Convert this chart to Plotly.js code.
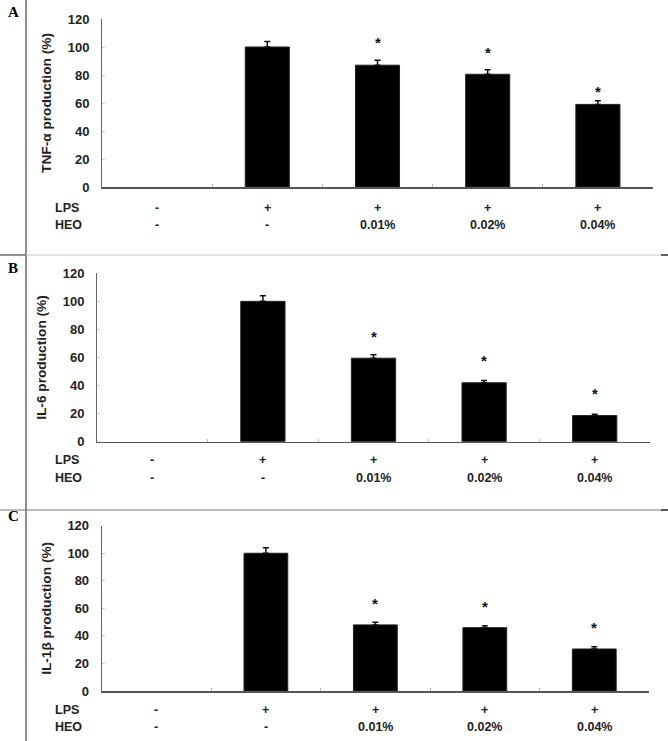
<!DOCTYPE html>
<html>
<head>
<meta charset="utf-8">
<script src="https://cdn.plot.ly/plotly-3.0.1.min.js"></script>
<style>html,body{margin:0;padding:0;background:#fff;}#chart{width:668px;height:741px;}</style>
</head>
<body>
<div id="chart"></div>
<script>
// ---- data ----
const categories = ["Control", "LPS", "LPS + HEO 0.01%", "LPS + HEO 0.02%", "LPS + HEO 0.04%"];
const lpsLabels = ["-", "+", "+", "+", "+"];
const heoLabels = ["-", "-", "0.01%", "0.02%", "0.04%"];
const yTitles = ["TNF-α production (%)", "IL-6 production (%)", "IL-1β production (%)"];
const panelLetters = ["A", "B", "C"];

const tnfValues = [null, 100, 87, 80.5, 59];
const tnfErrors = [0, 4, 3.5, 3.3, 2.6];
const tnfStars = [null, null, 105.5, 98, 70.5];

const il6Values = [null, 100, 59.5, 42, 18.6];
const il6Errors = [0, 4, 2.5, 1.6, 1];
const il6Stars = [null, null, 77.4, 60, 36.2];

const il1bValues = [null, 100, 48, 46, 30.5];
const il1bErrors = [0, 4, 1.9, 1.4, 1.7];
const il1bStars = [null, null, 66, 63.7, 48.4];

// ---- layout helpers ----
const W = 668, H = 741;
const px = v => v / W;
const py = v => 1 - v / H;

const panels = [
  {vals: tnfValues, errs: tnfErrors, stars: tnfStars, xd: [102, 653], yd: [19, 187], lps: 208, heo: 225, letterY: 12.5},
  {vals: il6Values, errs: il6Errors, stars: il6Stars, xd: [97, 650], yd: [273.3, 441.7], lps: 460, heo: 478, letterY: 267.5},
  {vals: il1bValues, errs: il1bErrors, stars: il1bStars, xd: [101.7, 649], yd: [525.7, 691], lps: 710, heo: 727, letterY: 516}
];

const sans = "Liberation Sans, Arial, sans-serif";
const traces = [];
const layout = {
  width: W, height: H,
  margin: {l: 0, r: 0, t: 0, b: 0},
  paper_bgcolor: "#fff", plot_bgcolor: "#fff",
  showlegend: false,
  annotations: [],
  shapes: [
    {type: "line", xref: "paper", yref: "paper", x0: px(26), x1: px(26), y0: 0, y1: 1, line: {color: "#444", width: 1.2}},
    {type: "line", xref: "paper", yref: "paper", x0: 0, x1: 1, y0: py(255), y1: py(255), line: {color: "#c4c4c4", width: 1}},
    {type: "line", xref: "paper", yref: "paper", x0: 0, x1: px(26), y0: py(255), y1: py(255), line: {color: "#444", width: 1}},
    {type: "line", xref: "paper", yref: "paper", x0: px(661), x1: 1, y0: py(255), y1: py(255), line: {color: "#333", width: 1.5}},
    {type: "line", xref: "paper", yref: "paper", x0: 0, x1: 1, y0: py(510), y1: py(510), line: {color: "#777", width: 1}},
    {type: "line", xref: "paper", yref: "paper", x0: px(661), x1: 1, y0: py(510), y1: py(510), line: {color: "#333", width: 1.5}}
  ]
};

panels.forEach((p, i) => {
  const sfx = i === 0 ? "" : String(i + 1);
  const xa = "x" + sfx, ya = "y" + sfx;
  traces.push({
    type: "bar", x: categories, y: p.vals, xaxis: xa, yaxis: ya, width: 0.4,
    marker: {color: "#000", line: {color: "#222", width: 1}},
    error_y: {type: "data", array: p.errs, symmetric: false, arrayminus: p.errs.map(() => 0), color: "#111", thickness: 1.5, width: 3},
    hoverinfo: "skip"
  });
  layout["xaxis" + sfx] = {
    domain: [px(p.xd[0]), px(p.xd[1])], anchor: ya, type: "category",
    range: [-0.5, 4.5], showticklabels: false, ticks: "inside", tickson: "boundaries",
    ticklen: 3, tickcolor: "#bbb", showline: true, linecolor: "#555", linewidth: 1.5,
    showgrid: false, zeroline: false, fixedrange: true
  };
  layout["yaxis" + sfx] = {
    domain: [py(p.yd[1]), py(p.yd[0])], anchor: xa, range: [0, 120], dtick: 20,
    ticks: "inside", ticklen: 3, tickcolor: "#ccc", showline: true, linecolor: "#666", linewidth: 1,
    showgrid: false, zeroline: false, ticklabelstandoff: 9,
    tickfont: {family: sans, size: 13, color: "#222", weight: "bold"},
    title: {text: yTitles[i], standoff: 12, font: {family: sans, size: 13.7, color: "#222", weight: "bold"}},
    fixedrange: true
  };
  // panel letter
  layout.annotations.push({xref: "paper", yref: "paper", x: px(13), y: py(p.letterY), text: panelLetters[i], showarrow: false,
    xanchor: "center", yanchor: "middle", font: {family: "Liberation Serif, Times New Roman, serif", size: 15, color: "#000", weight: "bold"}});
  // row labels
  layout.annotations.push({xref: "paper", yref: "paper", x: px(53), y: py(p.lps), text: "LPS", showarrow: false,
    xanchor: "left", yanchor: "middle", font: {family: sans, size: 12.5, color: "#222", weight: "bold"}});
  layout.annotations.push({xref: "paper", yref: "paper", x: px(53), y: py(p.heo), text: "HEO", showarrow: false,
    xanchor: "left", yanchor: "middle", font: {family: sans, size: 12.5, color: "#222", weight: "bold"}});
  categories.forEach((c, j) => {
    layout.annotations.push({xref: xa, yref: "paper", x: c, y: py(p.lps), text: lpsLabels[j], showarrow: false,
      xanchor: "center", yanchor: "middle", font: {family: sans, size: 12.5, color: "#222", weight: "bold"}});
    layout.annotations.push({xref: xa, yref: "paper", x: c, y: py(p.heo), text: heoLabels[j], showarrow: false,
      xanchor: "center", yanchor: "middle", font: {family: sans, size: 12.5, color: "#222", weight: "bold"}});
    if (p.stars[j] !== null) {
      layout.annotations.push({xref: xa, yref: ya, x: c, y: p.stars[j], text: "*", showarrow: false,
        xanchor: "center", yanchor: "middle", yshift: -3, font: {family: sans, size: 15, color: "#111", weight: "bold"}});
    }
  });
});

Plotly.newPlot("chart", traces, layout, {displayModeBar: false, staticPlot: true});
</script>
</body>
</html>
